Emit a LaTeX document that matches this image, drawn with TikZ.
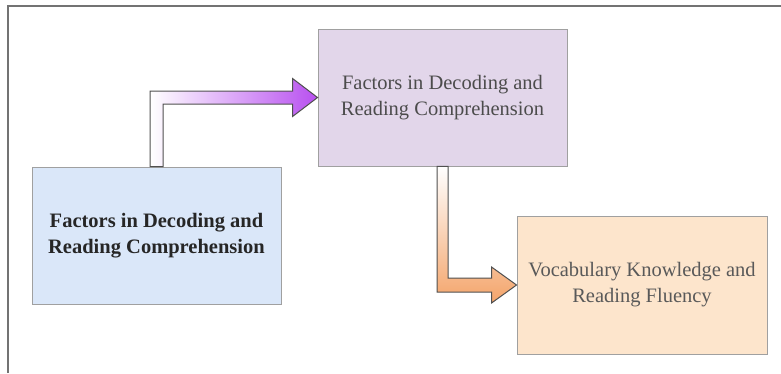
\documentclass[tikz,border=0pt]{standalone}
\usepackage{fontspec}
\setmainfont{Liberation Serif}
\usetikzlibrary{calc}
\definecolor{bluefill}{HTML}{DAE7F9}
\definecolor{purplefill}{HTML}{E2D6EA}
\definecolor{orangefill}{HTML}{FDE5CC}
\definecolor{boxline}{HTML}{A0A0A0}
\definecolor{arrowline}{HTML}{505050}
\definecolor{arrowpurple}{HTML}{B850F0}
\definecolor{arroworange}{HTML}{F4A46A}
\tikzset{
  box/.style={draw=boxline, line width=0.9pt, minimum width=249pt, minimum height=137pt,
    inner sep=0pt, align=center, font=\fontsize{20.5}{26}\selectfont},
  bent/.style={draw=arrowline, line width=1pt, line join=miter},
}
\begin{document}
\begin{tikzpicture}[x=1pt,y=-1pt]
\useasboundingbox (0,0) rectangle (781,373);
\draw[color=arrowline!80, line width=1.6pt] (8,373) -- (8,6) -- (781,6);
\node[box, fill=bluefill, text=black!85, font=\fontsize{20.5}{26}\selectfont\bfseries] (blue) at (156.5,235.5) {Factors in Decoding and\\Reading Comprehension};
\node[box, fill=purplefill, text=black!70] (purple) at (442.5,97.5) {Factors in Decoding and\\Reading Comprehension};
\node[box, fill=orangefill, text=black!65, minimum width=250pt, minimum height=138pt] (orange) at (642,285) {Vocabulary Knowledge and\\Reading Fluency};
% arrow 1
\coordinate (A) at (blue.north);
\coordinate (T) at (purple.west);
\coordinate (a1) at ($(A)+(-6.5,0)$);
\coordinate (a2) at ($(A)+(6.5,0)$);
\coordinate (t1) at ($(T)+(-25,-6.5)$);
\coordinate (t2) at ($(T)+(-25,6.5)$);
\shade[left color=white, right color=arrowpurple, bent]
  (a1) -- (a1 |- t1) -- (t1) -- ($(T)+(-25,-19)$) -- (T) -- ($(T)+(-25,19)$) -- (t2) -- (a2 |- t2) -- (a2) -- cycle;
% arrow 2
\coordinate (B) at (purple.south);
\coordinate (U) at (orange.west);
\coordinate (b1) at ($(B)+(-5.5,0)$);
\coordinate (b2) at ($(B)+(5.5,0)$);
\coordinate (u1) at ($(U)+(-25,7)$);
\coordinate (u2) at ($(U)+(-25,-7)$);
\shade[top color=white, bottom color=arroworange, bent]
  (b1) -- (b1 |- u1) -- (u1) -- ($(U)+(-25,18)$) -- (U) -- ($(U)+(-25,-18)$) -- (u2) -- (b2 |- u2) -- (b2) -- cycle;
\end{tikzpicture}
\end{document}
